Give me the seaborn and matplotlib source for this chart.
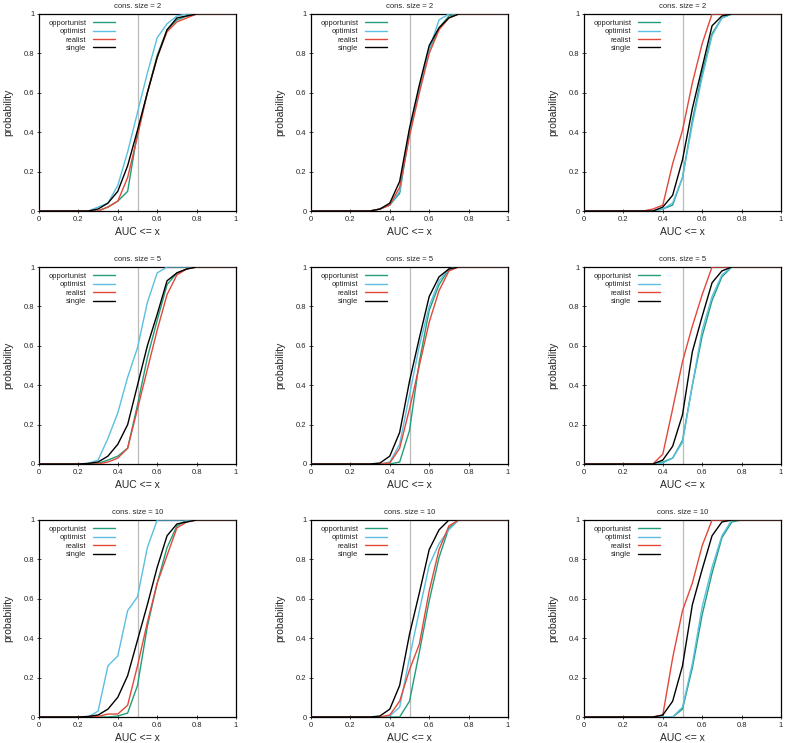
import matplotlib
matplotlib.use("Agg")
import matplotlib.pyplot as plt
import seaborn as sns
import pandas as pd

sns.set_style("white")
plt.rcParams['font.family'] = ['Liberation Sans', 'DejaVu Sans']

# x grid (AUC thresholds)
auc_x = [0.00, 0.05, 0.10, 0.15, 0.20, 0.25, 0.30, 0.35, 0.40, 0.45, 0.50,
         0.55, 0.60, 0.65, 0.70, 0.75, 0.80, 0.85, 0.90, 0.95, 1.00]

strategies = ["opportunist", "optimist", "realist", "single"]
colors = ["#1f9e7a", "#5bbfe0", "#e2483a", "#000000"]
titles = ["cons. size = 2", "cons. size = 5", "cons. size = 10"]

# ---- row 1: cons. size = 2 ----
r1c1_opportunist = [0, 0, 0, 0, 0, 0, 0.00, 0.02, 0.05, 0.10, 0.40, 0.60, 0.79, 0.92, 0.97, 0.99, 1, 1, 1, 1, 1]
r1c1_optimist    = [0, 0, 0, 0, 0, 0, 0.02, 0.04, 0.13, 0.30, 0.50, 0.70, 0.88, 0.95, 0.99, 1.00, 1, 1, 1, 1, 1]
r1c1_realist     = [0, 0, 0, 0, 0, 0, 0.00, 0.02, 0.05, 0.17, 0.38, 0.60, 0.78, 0.91, 0.96, 0.98, 1, 1, 1, 1, 1]
r1c1_single      = [0, 0, 0, 0, 0, 0, 0.01, 0.04, 0.10, 0.23, 0.41, 0.60, 0.78, 0.92, 0.98, 0.99, 1, 1, 1, 1, 1]

r1c2_opportunist = [0, 0, 0, 0, 0, 0, 0.00, 0.01, 0.03, 0.09, 0.40, 0.62, 0.82, 0.93, 0.99, 1.00, 1, 1, 1, 1, 1]
r1c2_optimist    = [0, 0, 0, 0, 0, 0, 0.00, 0.01, 0.03, 0.10, 0.41, 0.62, 0.82, 0.97, 1.00, 1.00, 1, 1, 1, 1, 1]
r1c2_realist     = [0, 0, 0, 0, 0, 0, 0.00, 0.01, 0.03, 0.12, 0.38, 0.60, 0.80, 0.92, 0.98, 1.00, 1, 1, 1, 1, 1]
r1c2_single      = [0, 0, 0, 0, 0, 0, 0.00, 0.01, 0.04, 0.15, 0.42, 0.64, 0.84, 0.93, 0.98, 1.00, 1, 1, 1, 1, 1]

r1c3_opportunist = [0, 0, 0, 0, 0, 0, 0.00, 0.00, 0.01, 0.03, 0.17, 0.46, 0.70, 0.90, 0.98, 1.00, 1, 1, 1, 1, 1]
r1c3_optimist    = [0, 0, 0, 0, 0, 0, 0.00, 0.00, 0.01, 0.04, 0.17, 0.44, 0.68, 0.89, 0.98, 1.00, 1, 1, 1, 1, 1]
r1c3_realist     = [0, 0, 0, 0, 0, 0, 0.00, 0.01, 0.03, 0.24, 0.41, 0.65, 0.85, 1.00, 1.00, 1.00, 1, 1, 1, 1, 1]
r1c3_single      = [0, 0, 0, 0, 0, 0, 0.00, 0.00, 0.02, 0.08, 0.26, 0.52, 0.73, 0.94, 0.99, 1.00, 1, 1, 1, 1, 1]

# ---- row 2: cons. size = 5 ----
r2c1_opportunist = [0, 0, 0, 0, 0, 0.000, 0.003, 0.02, 0.04, 0.08, 0.30, 0.54, 0.73, 0.91, 0.97, 0.99, 1, 1, 1, 1, 1]
r2c1_optimist    = [0, 0, 0, 0, 0, 0.003, 0.02, 0.13, 0.26, 0.44, 0.59, 0.82, 0.97, 1.00, 1.00, 1.00, 1, 1, 1, 1, 1]
r2c1_realist     = [0, 0, 0, 0, 0, 0.000, 0.000, 0.01, 0.03, 0.08, 0.28, 0.48, 0.68, 0.86, 0.96, 0.99, 1, 1, 1, 1, 1]
r2c1_single      = [0, 0, 0, 0, 0, 0.003, 0.01, 0.04, 0.10, 0.20, 0.40, 0.60, 0.76, 0.93, 0.97, 0.99, 1, 1, 1, 1, 1]

r2c2_opportunist = [0, 0, 0, 0, 0, 0, 0.000, 0.000, 0.000, 0.01, 0.17, 0.52, 0.78, 0.91, 0.99, 1.00, 1, 1, 1, 1, 1]
r2c2_optimist    = [0, 0, 0, 0, 0, 0, 0.000, 0.000, 0.010, 0.10, 0.35, 0.60, 0.80, 0.93, 0.99, 1.00, 1, 1, 1, 1, 1]
r2c2_realist     = [0, 0, 0, 0, 0, 0, 0.000, 0.000, 0.005, 0.08, 0.28, 0.50, 0.72, 0.88, 0.98, 1.00, 1, 1, 1, 1, 1]
r2c2_single      = [0, 0, 0, 0, 0, 0, 0.000, 0.005, 0.040, 0.16, 0.42, 0.64, 0.85, 0.95, 0.99, 1.00, 1, 1, 1, 1, 1]

r2c3_opportunist = [0, 0, 0, 0, 0, 0, 0, 0.00, 0.010, 0.03, 0.12, 0.40, 0.65, 0.83, 0.95, 1.00, 1, 1, 1, 1, 1]
r2c3_optimist    = [0, 0, 0, 0, 0, 0, 0, 0.00, 0.005, 0.03, 0.11, 0.40, 0.68, 0.85, 0.96, 1.00, 1, 1, 1, 1, 1]
r2c3_realist     = [0, 0, 0, 0, 0, 0, 0, 0.00, 0.050, 0.28, 0.52, 0.70, 0.86, 1.00, 1.00, 1.00, 1, 1, 1, 1, 1]
r2c3_single      = [0, 0, 0, 0, 0, 0, 0, 0.00, 0.020, 0.09, 0.25, 0.57, 0.75, 0.92, 0.98, 1.00, 1, 1, 1, 1, 1]

# ---- row 3: cons. size = 10 ----
r3c1_opportunist = [0, 0, 0, 0, 0, 0.000, 0.000, 0.000, 0.005, 0.02, 0.16, 0.46, 0.68, 0.86, 0.97, 1.00, 1, 1, 1, 1, 1]
r3c1_optimist    = [0, 0, 0, 0, 0, 0.000, 0.03, 0.26, 0.31, 0.54, 0.61, 0.86, 1.00, 1.00, 1.00, 1.00, 1, 1, 1, 1, 1]
r3c1_realist     = [0, 0, 0, 0, 0, 0.000, 0.003, 0.015, 0.015, 0.06, 0.26, 0.48, 0.68, 0.82, 0.96, 0.99, 1, 1, 1, 1, 1]
r3c1_single      = [0, 0, 0, 0, 0, 0.003, 0.01, 0.04, 0.10, 0.21, 0.39, 0.57, 0.76, 0.92, 0.98, 0.99, 1, 1, 1, 1, 1]

r3c2_opportunist = [0, 0, 0, 0, 0, 0, 0.000, 0.000, 0.000, 0.00, 0.08, 0.33, 0.59, 0.81, 0.96, 1.00, 1, 1, 1, 1, 1]
r3c2_optimist    = [0, 0, 0, 0, 0, 0, 0.000, 0.000, 0.005, 0.05, 0.30, 0.54, 0.77, 0.88, 0.95, 1.00, 1, 1, 1, 1, 1]
r3c2_realist     = [0, 0, 0, 0, 0, 0, 0.000, 0.000, 0.010, 0.08, 0.24, 0.37, 0.64, 0.85, 0.97, 1.00, 1, 1, 1, 1, 1]
r3c2_single      = [0, 0, 0, 0, 0, 0, 0.000, 0.005, 0.040, 0.16, 0.42, 0.63, 0.85, 0.95, 1.00, 1.00, 1, 1, 1, 1, 1]

r3c3_opportunist = [0, 0, 0, 0, 0, 0, 0, 0, 0.00, 0.00, 0.04, 0.25, 0.52, 0.73, 0.91, 0.99, 1, 1, 1, 1, 1]
r3c3_optimist    = [0, 0, 0, 0, 0, 0, 0, 0, 0.00, 0.00, 0.05, 0.27, 0.56, 0.76, 0.92, 1.00, 1, 1, 1, 1, 1]
r3c3_realist     = [0, 0, 0, 0, 0, 0, 0, 0, 0.01, 0.30, 0.54, 0.68, 0.87, 1.00, 1.00, 1.00, 1, 1, 1, 1, 1]
r3c3_single      = [0, 0, 0, 0, 0, 0, 0, 0, 0.01, 0.08, 0.26, 0.57, 0.75, 0.92, 0.99, 1.00, 1, 1, 1, 1, 1]

panels = [
    [(r1c1_opportunist, r1c1_optimist, r1c1_realist, r1c1_single),
     (r1c2_opportunist, r1c2_optimist, r1c2_realist, r1c2_single),
     (r1c3_opportunist, r1c3_optimist, r1c3_realist, r1c3_single)],
    [(r2c1_opportunist, r2c1_optimist, r2c1_realist, r2c1_single),
     (r2c2_opportunist, r2c2_optimist, r2c2_realist, r2c2_single),
     (r2c3_opportunist, r2c3_optimist, r2c3_realist, r2c3_single)],
    [(r3c1_opportunist, r3c1_optimist, r3c1_realist, r3c1_single),
     (r3c2_opportunist, r3c2_optimist, r3c2_realist, r3c2_single),
     (r3c3_opportunist, r3c3_optimist, r3c3_realist, r3c3_single)],
]

W, H = 785, 743
fig = plt.figure(figsize=(W / 100, H / 100), dpi=100)

col_left = [39, 311, 584]
row_top = [14, 267, 520]
aw, ah = 197, 197

palette = dict(zip(strategies, colors))

for r in range(3):
    for c in range(3):
        ax = fig.add_axes([col_left[c] / W, 1 - (row_top[r] + ah) / H, aw / W, ah / H])
        rows = []
        for name, vals in zip(strategies, panels[r][c]):
            for xv, yv in zip(auc_x, vals):
                rows.append({"x": xv, "p": yv, "strategy": name})
        df = pd.DataFrame(rows)
        ax.axvline(0.5, color="#bbbbbb", lw=0.9, zorder=1)
        sns.lineplot(data=df, x="x", y="p", hue="strategy", hue_order=strategies,
                     palette=palette, lw=1.0, ax=ax, legend=True, zorder=3)
        ax.set_xlim(0, 1)
        ax.set_ylim(0, 1)
        ax.set_xticks([0, 0.2, 0.4, 0.6, 0.8, 1])
        ax.set_xticklabels(["0", "0.2", "0.4", "0.6", "0.8", "1"])
        ax.set_yticks([0, 0.2, 0.4, 0.6, 0.8, 1])
        ax.set_yticklabels(["0", "0.2", "0.4", "0.6", "0.8", "1"])
        ax.tick_params(axis="both", labelsize=5.5, direction="inout", length=2.5,
                       width=0.6, pad=2, bottom=True, left=True, top=False, right=False)
        for s in ax.spines.values():
            s.set_linewidth(0.9)
            s.set_color("black")
        ax.set_xlabel("AUC <= x", fontsize=7.5, labelpad=3)
        ax.set_ylabel("probability", fontsize=7.5, labelpad=8)
        ax.set_title(titles[r], fontsize=5.5, pad=4)
        leg = ax.legend(loc="upper left", fontsize=5.5, frameon=False, markerfirst=False,
                        handlelength=3.0, handletextpad=0.8, labelspacing=0.15,
                        borderaxespad=0.3, bbox_to_anchor=(0.02, 1.0))
        leg._legend_box.align = "right"
        for line in leg.get_lines():
            line.set_linewidth(1.0)

fig.savefig("out.png", dpi=100)
